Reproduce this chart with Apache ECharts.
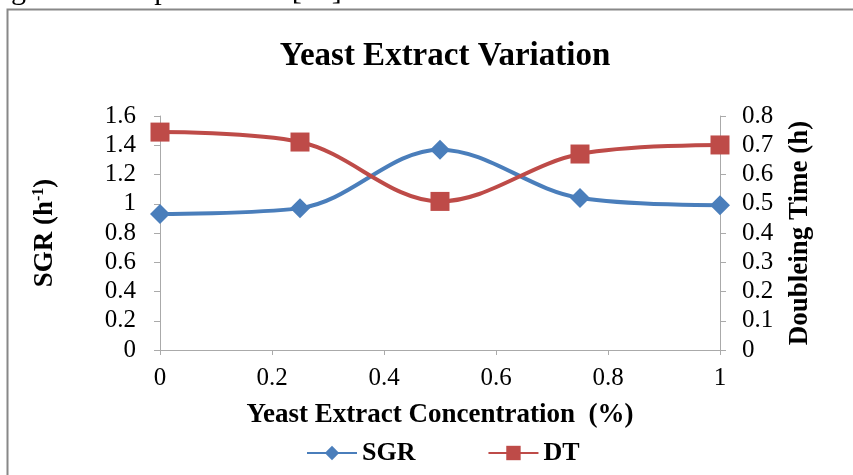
<!DOCTYPE html>
<html><head><meta charset="utf-8">
<script src="https://cdn.jsdelivr.net/npm/echarts@6/dist/echarts.min.js"></script>
<style>html,body{margin:0;padding:0;background:#fff}#c{width:853px;height:475px}</style>
</head><body><div id="c"></div>
<script>
var concentrations = [0, 0.25, 0.5, 0.75, 1];
var sgrValues = [0.93, 0.97, 1.37, 1.04, 0.99];
var dtValues = [0.745, 0.711, 0.508, 0.670, 0.701];
var leftTicks = [0, 0.2, 0.4, 0.6, 0.8, 1, 1.2, 1.4, 1.6];
var rightTicks = [0, 0.1, 0.2, 0.3, 0.4, 0.5, 0.6, 0.7, 0.8];

var F = '"Liberation Serif", "Times New Roman", serif';
var chart = echarts.init(document.getElementById('c'));
function pairs(vals){ return concentrations.map(function(x,i){return [x, vals[i]];}); }
chart.setOption({
  animation: false,
  graphic: [
    {type:'rect', shape:{x:7.5, y:9.5, width:900, height:500}, style:{fill:'none', stroke:'#888', lineWidth:2}},
    {type:'text', x:-4, y:6, style:{text:'ng antibiotic production [25].', font:'30px ' + F, fill:'#000', verticalAlign:'bottom'}}
  ],
  title: {text:'Yeast Extract Variation', left:440, textAlign:'center', top:35,
    textStyle:{fontFamily:F, fontWeight:'bold', fontSize:33, color:'#000'}},
  grid: {left:160, right:133, top:116, bottom:125},
  legend: {bottom:4, left:301, itemGap:72, itemWidth:50, itemHeight:18,
    textStyle:{fontFamily:F, fontWeight:'bold', fontSize:26, color:'#000'},
    data:['SGR','DT']},
  xAxis: {type:'value', min:0, max:1, interval:0.2,
    name:'Yeast Extract Concentration  (%)', nameLocation:'middle', nameGap:52,
    nameTextStyle:{fontFamily:F, fontWeight:'bold', fontSize:27, color:'#000'},
    axisLine:{lineStyle:{color:'#aaa'}}, axisTick:{show:true, length:5, lineStyle:{color:'#aaa'}},
    splitLine:{show:false},
    axisLabel:{fontFamily:F, fontSize:25, color:'#000', margin:16}},
  yAxis: [
    {type:'value', min:0, max:1.6, interval:0.2,
      name:'{n|SGR (h}{s|-1}{n|)}', nameLocation:'middle', nameGap:101, nameRotate:90,
      nameTextStyle:{rich:{n:{fontFamily:F, fontWeight:'bold', fontSize:27, color:'#000'},
        s:{fontFamily:F, fontWeight:'bold', fontSize:16, color:'#000', verticalAlign:'top', padding:[0,0,12,0]}}},
      axisLine:{show:true, lineStyle:{color:'#aaa'}}, axisTick:{show:true, length:6, inside:false, lineStyle:{color:'#aaa'}},
      splitLine:{show:false},
      axisLabel:{fontFamily:F, fontSize:25, color:'#000', margin:24}},
    {type:'value', min:0, max:0.8, interval:0.1, position:'right',
      name:'Doubleing Time (h)', nameLocation:'middle', nameGap:67, nameRotate:90,
      nameTextStyle:{fontFamily:F, fontWeight:'bold', fontSize:27, color:'#000'},
      axisLine:{show:true, lineStyle:{color:'#aaa'}}, axisTick:{show:true, length:6, lineStyle:{color:'#aaa'}},
      splitLine:{show:false},
      axisLabel:{fontFamily:F, fontSize:25, color:'#000', margin:22}}
  ],
  series: [
    {name:'SGR', type:'line', yAxisIndex:0, data:pairs(sgrValues), smooth:0.35,
      symbol:'diamond', symbolSize:20, lineStyle:{color:'#4a7ebb', width:4},
      itemStyle:{color:'#4a7ebb'}},
    {name:'DT', type:'line', yAxisIndex:1, data:pairs(dtValues), smooth:0.35,
      symbol:'rect', symbolSize:19, lineStyle:{color:'#be4b48', width:4},
      itemStyle:{color:'#be4b48'}}
  ]
});
</script></body></html>
